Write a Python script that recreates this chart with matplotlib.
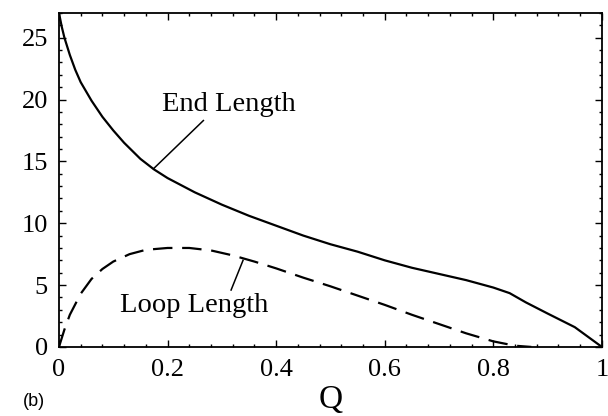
import numpy as np
import matplotlib

matplotlib.use('Agg')
import matplotlib.pyplot as plt
from matplotlib.ticker import MultipleLocator

# data
q_end = [0, 0.005, 0.01, 0.02, 0.03, 0.04, 0.06, 0.08, 0.1, 0.12, 0.15, 0.175, 0.2, 0.25,
         0.3, 0.35, 0.4, 0.45, 0.5, 0.55, 0.6, 0.65, 0.7, 0.75, 0.8, 0.83, 0.86, 0.9, 0.95, 1.0]
end_length = [27.0, 25.9, 25.0, 23.6, 22.4, 21.4, 19.9, 18.6, 17.5, 16.5, 15.2, 14.35, 13.65, 12.5,
              11.5, 10.6, 9.8, 9.0, 8.3, 7.7, 7.0, 6.4, 5.9, 5.4, 4.8, 4.35, 3.6, 2.7, 1.6, 0.0]

q_loop = [0, 0.01, 0.02, 0.04, 0.06, 0.08, 0.1, 0.13, 0.16, 0.2, 0.24, 0.28, 0.32, 0.36,
          0.4, 0.45, 0.5, 0.55, 0.6, 0.65, 0.7, 0.75, 0.8, 0.84, 0.87]
loop_length = [0, 1.4, 2.6, 4.3, 5.5, 6.3, 6.9, 7.5, 7.85, 8.0, 8.0, 7.8, 7.4, 6.9,
               6.35, 5.6, 4.9, 4.15, 3.4, 2.6, 1.85, 1.1, 0.45, 0.1, 0.0]

x_ticks = [0, 0.2, 0.4, 0.6, 0.8, 1.0]
x_tick_labels = ['0', '0.2', '0.4', '0.6', '0.8', '1']
y_ticks = [0, 5, 10, 15, 20, 25]

plt.rcParams['font.family'] = 'Liberation Serif'
plt.rcParams['lines.scale_dashes'] = False

fig = plt.figure(figsize=(6.08, 4.16), dpi=100)
ax = fig.add_axes([0.097, 0.166, 0.893, 0.803])

ax.plot(q_end, end_length, color='black', lw=1.6, solid_joinstyle='round')
ax.plot(q_loop, loop_length, color='black', lw=1.6, dashes=(14, 7))

ax.set_xlim(0, 1)
ax.set_ylim(0, 27)
ax.set_xticks(x_ticks)
ax.set_xticklabels(x_tick_labels)
ax.set_yticks(y_ticks)
ax.xaxis.set_minor_locator(MultipleLocator(0.04))
ax.yaxis.set_minor_locator(MultipleLocator(1))
ax.tick_params(which='both', direction='in', top=True, right=True, width=1.0, colors='black')
ax.tick_params(which='major', length=5, labelsize=19)
ax.tick_params(which='minor', length=2.5)
ax.tick_params(axis='x', which='major', pad=9)
ax.tick_params(axis='y', which='major', pad=8)
for s in ax.spines.values():
    s.set_linewidth(1.3)

ax.set_xlabel('Q', fontsize=24, labelpad=2)

# labels with pointer lines
ax.text(0.19, 19.1, 'End Length', fontsize=20.5, ha='left', va='baseline')
ax.plot([0.266, 0.174], [18.3, 14.4], color='black', lw=1.1)
ax.text(0.112, 2.85, 'Loop Length', fontsize=20.5, ha='left', va='baseline')
ax.plot([0.317, 0.339], [4.6, 7.0], color='black', lw=1.1)

fig.text(0.038, 0.034, '(b)', fontsize=13, family='Liberation Sans', ha='left', va='center')

fig.savefig('out.png', dpi=100)
